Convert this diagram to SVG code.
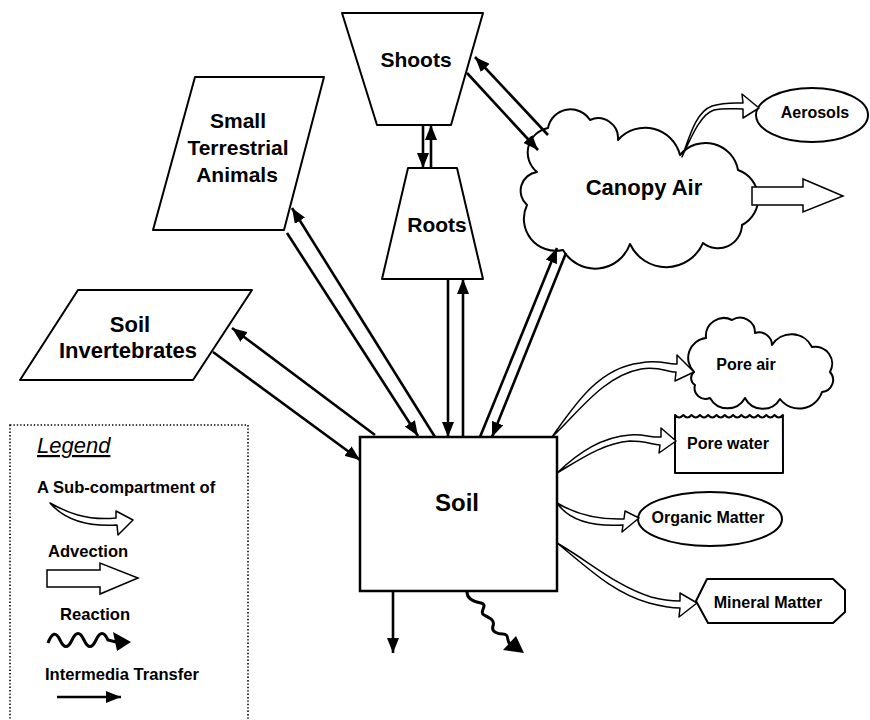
<svg xmlns="http://www.w3.org/2000/svg" width="870" height="720" viewBox="0 0 870 720">
<style>
.shape{fill:#fff;stroke:#000;stroke-width:2;stroke-linejoin:round}
.lbl{font-family:"Liberation Sans",Arial,sans-serif;font-weight:bold;fill:#000;text-anchor:middle}
.big{font-size:22px}
.med{font-size:21px}
.sm{font-size:16px}
.leg{font-family:"Liberation Sans",Arial,sans-serif;font-weight:bold;font-size:16.6px;fill:#000}
.tr{fill:none;stroke:#000;stroke-width:2.6;marker-end:url(#ah)}
.sub{fill:#fff;stroke:#000;stroke-width:1.5;stroke-linejoin:round}
.adv{fill:#fff;stroke:#000;stroke-width:1.5}
.rx{fill:none;stroke:#000;stroke-width:3}
</style>
<defs>
<marker id="ah" viewBox="0 0 15 12" refX="15" refY="6" markerWidth="15" markerHeight="12" orient="auto" markerUnits="userSpaceOnUse">
<path d="M0,0 L15,6 L0,12 z" fill="#000"/>
</marker>
</defs>
<rect width="870" height="720" fill="#fff"/>

<g id="shoots">
<polygon class="shape" points="342,13 483,13 451,125 377,125"/>
<text class="lbl med" x="416" y="67">Shoots</text>
</g>
<g id="roots">
<polygon class="shape" points="408,168 457,168 483,279 382,279"/>
<text class="lbl med" x="437" y="232">Roots</text>
</g>
<g id="small-terrestrial-animals">
<polygon class="shape" points="195,77 324,77 284,230 153,230"/>
<text class="lbl med" x="238" y="128">Small</text>
<text class="lbl med" x="238" y="155">Terrestrial</text>
<text class="lbl med" x="237" y="182">Animals</text>
</g>
<g id="soil-invertebrates">
<polygon class="shape" points="78,290 252,290 193,380 20,380"/>
<text class="lbl big" x="130" y="332">Soil</text>
<text class="lbl big" x="128" y="358">Invertebrates</text>
</g>
<g id="canopy-air">
<path class="shape" d="M537,172 A25,25 0 0 1 548,128 A23,23 0 0 1 590,120 A20,20 0 0 1 618,140 A36,36 0 0 1 680,155 A33,33 0 0 1 738,170 A30,30 0 0 1 742,225 A24,24 0 0 1 703,243 A40,40 0 0 1 630,244 A37,37 0 0 1 563,250 A32,32 0 0 1 527,205 A19,19 0 0 1 537,172 Z"/>
<text class="lbl big" x="644" y="195">Canopy Air</text>
</g>
<g id="aerosols">
<ellipse class="shape" cx="812" cy="115" rx="56" ry="27"/>
<text class="lbl sm" x="815" y="118">Aerosols</text>
</g>
<g id="soil">
<rect x="360" y="437" width="197" height="154" fill="#fff" stroke="#000" stroke-width="2.5"/>
<text class="lbl" style="font-size:24px" x="457" y="511">Soil</text>
</g>
<g id="pore-air">
<path class="shape" d="M694,372 A20,20 0 0 1 706,338 A18,18 0 0 1 732,320 A15,15 0 0 1 755,333 A13,13 0 0 1 772,345 A23,23 0 0 1 812,347 A17,17 0 0 1 830,372 A12,12 0 0 1 822,392 A24,24 0 0 1 780,399 A20,20 0 0 1 745,398 A20,20 0 0 1 710,398 A11,11 0 0 1 695,385 A8,8 0 0 1 694,372 Z"/>
<text class="lbl sm" x="746" y="370">Pore air</text>
</g>
<g id="pore-water">
<path class="shape" d="M675,473 L675,415 q4.15,5 8.3,0 q4.15,5 8.3,0 q4.15,5 8.3,0 q4.15,5 8.3,0 q4.15,5 8.3,0 q4.15,5 8.3,0 q4.15,5 8.3,0 q4.15,5 8.3,0 q4.15,5 8.3,0 q4.15,5 8.3,0 q4.15,5 8.3,0 q4.15,5 8.3,0 q4.15,5 8.3,0 L783,473 Z"/>
<text class="lbl sm" x="728" y="449">Pore water</text>
</g>
<g id="organic-matter">
<ellipse class="shape" cx="710" cy="519" rx="72" ry="27"/>
<text class="lbl sm" x="708" y="523">Organic Matter</text>
</g>
<g id="mineral-matter">
<polygon class="shape" points="707,579 833,579 845,590 845,612 833,623 708,623 696,601"/>
<text class="lbl sm" x="768" y="608">Mineral Matter</text>
</g>

<g id="connectors">
<path class="tr" d="M375,435 L232,328"/>
<path class="tr" d="M213,352 L360,460"/>
<path class="tr" d="M287,233 L418,436"/>
<path class="tr" d="M435,437 L292,208"/>
<path class="tr" d="M448,279 L448,437"/>
<path class="tr" d="M463,437 L463,279"/>
<path class="tr" d="M480,437 L557,248"/>
<path class="tr" d="M566,253 L492,437"/>
<path class="tr" d="M548,135 L475,57"/>
<path class="tr" d="M467,73 L538,150"/>
<path class="tr" d="M423,125 L423,168"/>
<path class="tr" d="M431,168 L431,125"/>
<path class="tr" d="M393,591 L393,653"/>
<path class="rx" d="M467,592 C467,600 475,602 481,603 C489,605 478,612 484,615 C490,618 495,620 493,626 C491,632 498,634 503,634 C510,634 506,641 510,644"/>
<polygon points="524,653 503,650 516,636" fill="#000"/>
<path class="sub" d="M552,437 C574,406 598,368 640,363 C660,359 668,365 677,364 L677,355 L694,372 L675,381 L676,372 C667,372 659,366 641,369 C603,376 578,413 552,437 Z"/>
<path class="sub" d="M557,473 C579,452 602,437 630,435 C645,434 652,438 661,437 L661,428 L676,441 L659,453 L660,445 C651,444 644,441 630,441 C604,443 582,458 557,473 Z"/>
<path class="sub" d="M557,503 C572,512 592,520 624,519 L625,511 L639,518 L622,532 L623,525 C590,527 568,519 557,503 Z"/>
<path class="sub" d="M557,543 C590,562 616,586 651,597 C666,601 673,601 680,601 L680,593 L697,603 L679,617 L680,608 C672,608 664,607 649,603 C613,593 588,568 557,543 Z"/>
<path class="sub" d="M682,157 C690,135 696,112 712,106 C725,102 735,103 743,103 L742,94 L759,108 L743,118 L743,109 C733,109 724,108 714,110 C701,114 692,135 682,157 Z"/>
<path class="adv" d="M752,187 L803,187 L803,179 L843,196 L803,212 L803,205 L752,205 Z"/>
</g>

<g id="legend">
<rect x="10" y="425" width="238" height="310" fill="none" stroke="#000" stroke-width="1.6" stroke-dasharray="1.4 2"/>
<text x="37" y="453" style="font-family:'Liberation Sans',Arial,sans-serif;font-style:italic;font-size:22px" text-decoration="underline">Legend</text>
<text class="leg" x="37" y="493">A Sub-compartment of</text>
<path class="sub" d="M50,503 C66,512 86,521 116,518 L116,511 L133,520 L118,535 L117,525 C85,527 63,518 50,503 Z"/>
<text class="leg" x="48" y="557">Advection</text>
<path class="adv" d="M47,570 L100,570 L100,563 L138,578 L100,594 L100,587 L47,587 Z"/>
<text class="leg" x="60" y="620">Reaction</text>
<path class="rx" d="M48,643 Q54,627 60,640 Q66,653 72,640 Q78,627 84,640 Q90,653 96,640 Q102,627 108,640 L116,642"/>
<polygon points="131,642 113,632 117,651" fill="#000"/>
<text class="leg" x="45" y="680">Intermedia Transfer</text>
<path class="tr" d="M57,697 L121,697"/>
</g>
</svg>
